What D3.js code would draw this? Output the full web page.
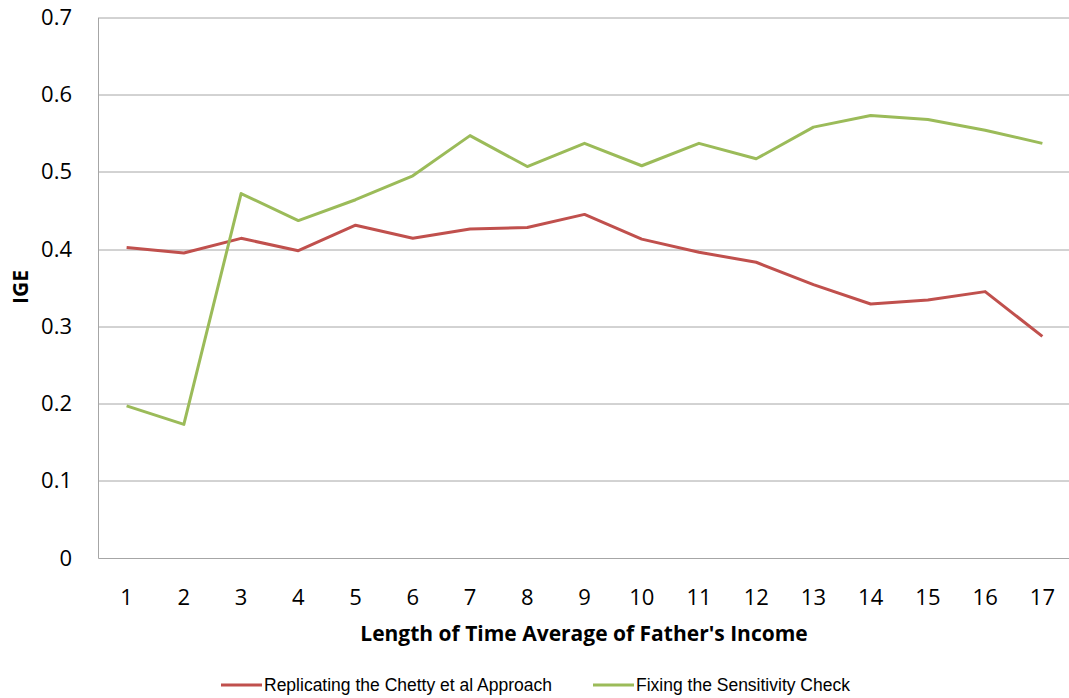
<!DOCTYPE html>
<html>
<head>
<meta charset="utf-8">
<script src="https://cdn.jsdelivr.net/npm/d3@7"></script>
<style>
  body { margin: 0; background: #fff; }
  svg { display: block; font-family: "Liberation Sans", Arial, sans-serif; }
</style>
</head>
<body>
<svg class="chart" width="1069" height="698"></svg>
<script>
var categories = ["1","2","3","4","5","6","7","8","9","10","11","12","13","14","15","16","17"];
var replicating = [0.402, 0.395, 0.414, 0.398, 0.431, 0.414, 0.426, 0.428, 0.445, 0.413, 0.396, 0.383, 0.354, 0.329, 0.334, 0.345, 0.287];
var fixing = [0.197, 0.173, 0.472, 0.437, 0.464, 0.495, 0.547, 0.507, 0.537, 0.508, 0.537, 0.517, 0.558, 0.573, 0.568, 0.554, 0.537];
var yTicks = [0, 0.1, 0.2, 0.3, 0.4, 0.5, 0.6, 0.7];

var series = [
  { name: "Replicating the Chetty et al Approach", values: replicating, color: "#c0504d" },
  { name: "Fixing the Sensitivity Check", values: fixing, color: "#9bbb59" }
];

var svg = d3.select(".chart"),
  margin = { top: 17.5, right: -2, bottom: 140, left: 98 },
  width = +svg.attr("width") - margin.left - margin.right,
  height = +svg.attr("height") - margin.top - margin.bottom,
  g = svg.append("g").attr("transform", "translate(" + margin.left + "," + margin.top + ")");

var x = d3.scaleBand().domain(categories).range([0, width]);
var y = d3.scaleLinear().domain([0, 0.7]).range([height, 0]);

// gridlines
g.append("g")
  .selectAll("line")
  .data(yTicks.slice(1))
  .enter().append("line")
  .attr("x1", 0).attr("x2", width)
  .attr("y1", function(d) { return Math.round(y(d)) + 0.5; })
  .attr("y2", function(d) { return Math.round(y(d)) + 0.5; })
  .attr("stroke", "#a6a6a6")
  .attr("stroke-width", 1);

// y axis
var yAxis = g.append("g")
  .call(d3.axisLeft(y).tickValues(yTicks).tickSize(0).tickPadding(26).tickFormat(function(d) { return d === 0 ? "0" : d3.format(".1f")(d); }));
yAxis.select(".domain").attr("stroke", "#a6a6a6");
yAxis.selectAll("text").attr("font-size", 22).attr("fill", "#000")
  .attr("font-family", "'Open Sans', sans-serif");

// x axis
var xAxis = g.append("g")
  .attr("transform", "translate(0," + height + ")")
  .call(d3.axisBottom(x).tickSize(0).tickPadding(31));
xAxis.select(".domain").attr("stroke", "#a6a6a6");
xAxis.selectAll("text").attr("font-size", 22).attr("fill", "#000")
  .attr("font-family", "'Open Sans', sans-serif");

var line = d3.line()
  .x(function(d, i) { return x(categories[i]) + x.bandwidth() / 2; })
  .y(function(d) { return y(d); });

series.forEach(function(s) {
  g.append("path")
    .datum(s.values)
    .attr("fill", "none")
    .attr("stroke", s.color)
    .attr("stroke-width", 3)
    .attr("stroke-linejoin", "round")
    .attr("d", line);
});

// axis titles
svg.append("text")
  .attr("x", 584).attr("y", 641)
  .attr("text-anchor", "middle")
  .attr("font-size", 21).attr("font-weight", "bold")
  .attr("font-family", "'Open Sans', sans-serif")
  .text("Length of Time Average of Father's Income");

svg.append("text")
  .attr("transform", "translate(28,287) rotate(-90)")
  .attr("text-anchor", "middle")
  .attr("font-size", 21).attr("font-weight", "bold")
  .attr("font-family", "'Open Sans', sans-serif")
  .text("IGE");

// legend
var legendX = [221, 593];
var legend = svg.append("g").selectAll("g")
  .data(series)
  .enter().append("g")
  .attr("transform", function(d, i) { return "translate(" + legendX[i] + ",685)"; });
legend.append("line")
  .attr("x1", 0).attr("x2", 41)
  .attr("stroke", function(d) { return d.color; })
  .attr("stroke-width", 3);
legend.append("text")
  .attr("x", 43).attr("dy", "0.35em")
  .attr("font-size", 17.5)
  .attr("font-family", "'Liberation Sans Narrow', sans-serif")
  .text(function(d) { return d.name; });
</script>
</body>
</html>
